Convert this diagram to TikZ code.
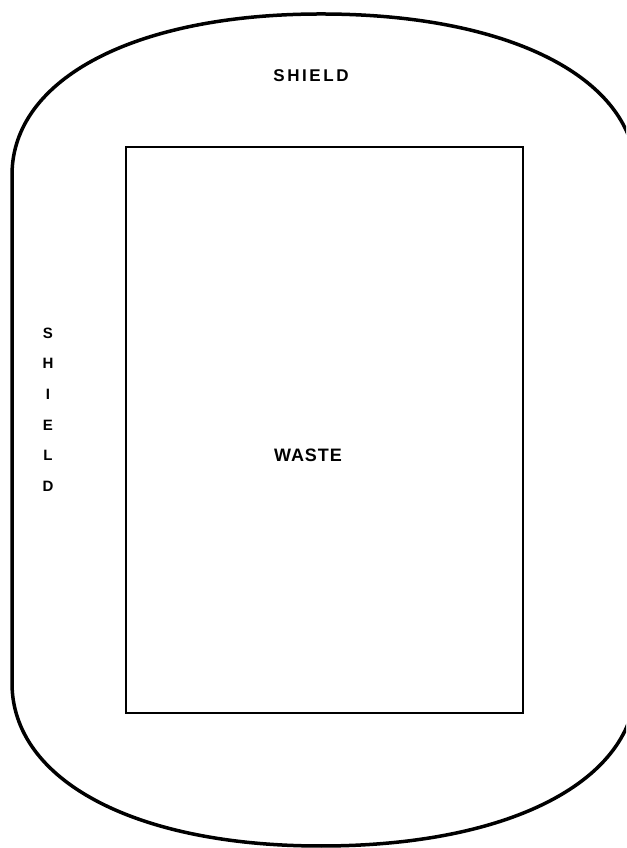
\documentclass[tikz,border=0pt]{standalone}
\usepackage{fontspec}
\setmainfont{Liberation Sans}
\begin{document}
\begin{tikzpicture}[x=1pt,y=1pt,
  shieldline/.style={line width=3.5pt},
  wastebox/.style={draw, line width=2.6pt, inner sep=0pt, minimum width=397pt, minimum height=566pt},
  lbl/.style={inner sep=0pt}]
\useasboundingbox (0,0) rectangle (626,848);
\clip (0,0) rectangle (626,848);
\draw[shieldline] (12,673) -- (12,165)
  .. controls (12,67.2) and (135.6,2) .. (321,2)
  .. controls (510,2) and (636,67.2) .. (636,165)
  -- (636,673)
  .. controls (636,769.6) and (510,834) .. (321,834)
  .. controls (135.6,834) and (12,769.6) .. cycle;
\node[wastebox] (waste) at (324.5,418) {};
\node[lbl, font=\bfseries\fontsize{17}{20}\selectfont\addfontfeature{LetterSpace=15}] (topshield) at (311,772) {SHIELD};
\node[lbl, font=\bfseries\fontsize{18}{22}\selectfont\addfontfeature{LetterSpace=5}] (wastelbl) at (308,393) {WASTE};
\node[lbl, align=center, font=\bfseries\fontsize{15}{30.6}\selectfont] (sideshield) at (48,438.5) {S\\H\\I\\E\\L\\D};
\end{tikzpicture}
\end{document}
